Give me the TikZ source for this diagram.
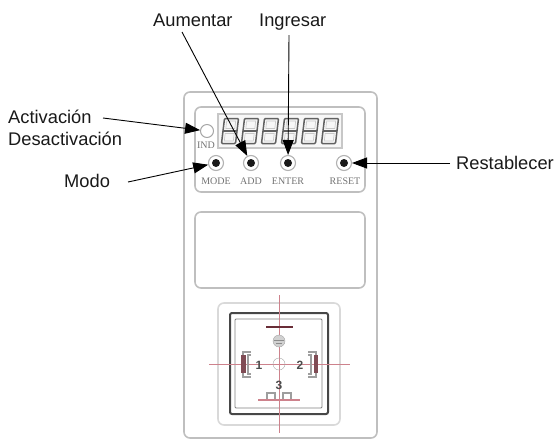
\documentclass[tikz,border=0pt]{standalone}
\usepackage{fontspec}
\setmainfont{Liberation Sans}
\newfontfamily\plate{Liberation Serif}
\usetikzlibrary{arrows.meta}
\definecolor{panelgrey}{gray}{0.75}
\definecolor{crossred}{RGB}{205,130,140}
\definecolor{pinred}{RGB}{105,45,55}
\tikzset{
  x=1pt,y=-1pt,
  lbl/.style={font=\fontsize{18.3}{20}\selectfont,inner sep=0pt,anchor=base west,text=black!90},
  plateLbl/.style={font=\plate\fontsize{10}{10}\selectfont,inner sep=0pt,text=black!55},
  panel/.style={draw=panelgrey,line width=1.6pt,rounded corners=6pt},
  btn/.style={circle,draw=black!30,line width=1.1pt,minimum size=15pt,inner sep=0pt,outer sep=0.5pt,fill=white},
  dot/.style={circle,fill=black!90,minimum size=8pt,inner sep=0pt},
  callout/.style={line width=0.9pt,-{Stealth[inset=0pt,length=15pt,width=11pt]}},
  seg/.style={draw=black!62,line width=1.5pt,line join=round,rounded corners=1pt},
  crossln/.style={draw=crossred,line width=0.9pt},
  pinline/.style={draw=black!38,line width=1.1pt},
  pinnum/.style={font=\bfseries\fontsize{12}{12}\selectfont,inner sep=0pt,text=black!70},
}
\begin{document}
\begin{tikzpicture}
\useasboundingbox (0,0) rectangle (556,440);
% panels
\draw[panel] (184,92) rectangle (377,438);
\draw[panel] (195,107) rectangle (365,192);
\draw[panel] (195,212) rectangle (365,288);
\draw[panel,draw=black!15] (218,303) rectangle (340,425);
% display
\draw[draw=black!22,line width=1.6pt,fill=black!3] (218,114) rectangle (342,148);
\foreach \cx in {230,250,270,290,310,330}{
  \begin{scope}[shift={(\cx,131)},xslant=0.12]
    \draw[seg] (-7,-12.5) rectangle (7,12.5);
    \draw[seg] (-7,0) -- (7,0);
    \draw[draw=black!22,line width=0.6pt] (-4.5,-10) rectangle (4.5,-2.5) (-4.5,2.5) rectangle (4.5,10);
  \end{scope}
}
% indicator
\node[circle,draw=black!35,line width=1pt,minimum size=13pt,inner sep=0pt,outer sep=0.5pt] (ind) at (207,131) {};
\node[plateLbl] (indT) at (206,145) {IND};
% buttons
\node[btn] (bmode) at (216,163) {};
\node[btn] (badd) at (251,163) {};
\node[btn] (benter) at (288,163) {};
\node[btn] (breset) at (344,163) {};
\node[dot] (dmode) at (bmode) {};
\node[dot] (dadd) at (badd) {};
\node[dot] (denter) at (benter) {};
\node[dot] (dreset) at (breset) {};
\node[plateLbl] (tmode) at (216,181) {MODE};
\node[plateLbl] (tadd) at (251,181) {ADD};
\node[plateLbl] (tenter) at (288,181) {ENTER};
\node[plateLbl] (treset) at (345,181) {RESET};
% connector block
\draw[draw=black!72,line width=2pt,rounded corners=2pt] (230,313) rectangle (328,414);
\draw[draw=black!50,line width=0.9pt,rounded corners=1pt] (235,319) rectangle (322,408);
\draw[crossln] (279,295) -- (279,433);
\draw[crossln] (209,364) -- (350,364);
\draw[draw=pinred,line width=2.6pt] (266,327) -- (293,327);
\node[circle,draw=black!35,fill=black!18,minimum size=12pt,inner sep=0pt] (earth) at (279,341) {};
\draw[black!45,line width=0.7pt] (274,340) -- (284,340) (276,343) -- (282,343);
\node[circle,draw=black!35,minimum size=12pt,inner sep=0pt] (centre) at (279,364) {};
% pin 1
\draw[pinline] (251,352) -- (243,352) -- (243,377) -- (251,377);
\draw[pinline] (251,355) -- (248,355) -- (248,374) -- (251,374);
\fill[pinred!85] (241,355) rectangle (245.5,373);
% pin 2
\draw[pinline] (308,352) -- (316,352) -- (316,377) -- (308,377);
\draw[pinline] (308,355) -- (311,355) -- (311,374) -- (308,374);
\fill[pinred!85] (313.5,355) rectangle (318,373);
% pin 3
\draw[pinline] (267,400) -- (267,393) -- (275,393) -- (275,400) (283,400) -- (283,393) -- (291,393) -- (291,400);
\draw[draw=crossred,line width=1.1pt] (258,400) -- (300,400);
\node[pinnum] (n1) at (259,365) {1};
\node[pinnum] (n2) at (300,365) {2};
\node[pinnum] (n3) at (279,385) {3};
% labels
\node[lbl] (laum) at (153,26) {Aumentar};
\node[lbl] (ling) at (259,26) {Ingresar};
\node[lbl] (lact) at (8,123) {Activación};
\node[lbl] (ldes) at (8,145) {Desactivación};
\node[lbl] (lmod) at (64,187) {Modo};
\node[lbl] (lres) at (456,169) {Restablecer};
% callouts
\coordinate (saum) at (182,32);
\coordinate (sing) at (289,35);
\coordinate (sact) at (103,118);
\coordinate (smod) at (128,182);
\coordinate (sres) at (450,163);
\draw[callout] (saum) -- (badd);
\draw[callout] (sing) -- (benter);
\draw[callout] (sact) -- (ind);
\draw[callout] (smod) -- (bmode);
\draw[callout] (sres) -- (breset);
\end{tikzpicture}
\end{document}
